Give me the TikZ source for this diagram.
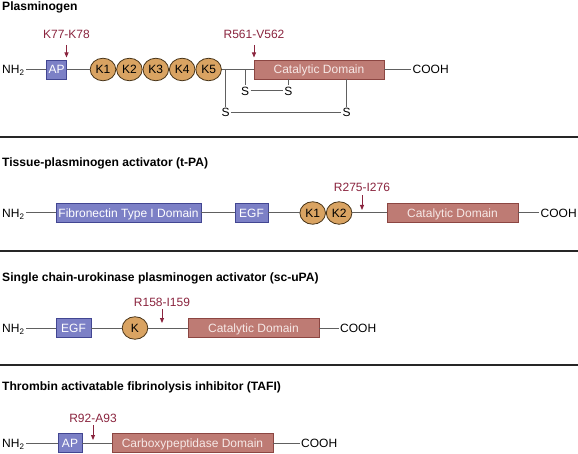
\documentclass[tikz,border=0pt]{standalone}
\usepackage{fontspec}
\setmainfont{Liberation Sans}
\usetikzlibrary{positioning, arrows.meta, shapes.geometric}
\definecolor{apblue}{RGB}{124,128,198}
\definecolor{apborder}{RGB}{66,70,146}
\definecolor{catred}{RGB}{190,123,116}
\definecolor{catborder}{RGB}{140,70,66}
\definecolor{cattext}{RGB}{246,232,230}
\definecolor{krfill}{RGB}{217,163,98}
\definecolor{krborder}{RGB}{72,52,24}
\definecolor{cleave}{RGB}{138,36,62}
\definecolor{chain}{RGB}{96,96,96}
\newcommand{\domfont}{\fontsize{12}{14}\selectfont}
\newcommand{\headfont}{\fontsize{12.1}{14}\selectfont\bfseries}
\tikzset{
  every node/.style={font=\domfont},
  heading/.style={anchor=base west, inner sep=0pt, font=\headfont},
  term/.style={anchor=west, inner sep=1.5pt, text height=8.5pt, text depth=0pt},
  bluebox/.style={
    rectangle, draw=apborder, fill=apblue, line width=0.8pt,
    minimum height=19pt, inner sep=0pt, text height=8.5pt, text depth=0pt, text=white
  },
  catbox/.style={
    rectangle, draw=catborder, fill=catred, line width=0.8pt,
    minimum height=19pt, inner sep=0pt, text height=8.5pt, text depth=0pt, text=cattext
  },
  kringle/.style={
    ellipse, draw=krborder, fill=krfill, line width=0.8pt,
    minimum width=25.6pt, minimum height=22.5pt, inner sep=0pt
  },
  site/.style={anchor=base, inner sep=0pt, text=cleave},
  cleavage/.style={draw=cleave, line width=0.9pt, -{Triangle[width=4pt,length=5pt]}},
  sulfur/.style={inner sep=1.5pt},
  every edge/.style={draw=chain, line width=1pt},
  divider/.style={line width=1.6pt, black!85},
}
\begin{document}
\begin{tikzpicture}[x=1pt, y=-1pt]
  \useasboundingbox (0,0) rectangle (578,454);

  % Plasminogen
  \node[heading] (t1) at (2,10.5) {Plasminogen};
  \node[term] (nh1) at (0.5,69.5) {NH\textsubscript{2}};
  \node[bluebox, minimum width=20pt] (ap1) at (56.7,69.5) {AP};
  \node[kringle] (k11) at (103,69.5) {K1};
  \node[kringle, right=0pt of k11] (k12) {K2};
  \node[kringle, right=0pt of k12] (k13) {K3};
  \node[kringle, right=0pt of k13] (k14) {K4};
  \node[kringle, right=0pt of k14] (k15) {K5};
  \node[catbox, minimum width=130pt] (cat1) at (319,69.5) {Catalytic Domain};
  \node[term] (cooh1) at (411,69.5) {COOH};
  \path (nh1) edge (ap1)
        (ap1) edge (k11)
        (k15) edge (cat1)
        (cat1) edge (cooh1);

  \node[site] (cut1a) at (66.5,38.5) {K77-K78};
  \node[site] (cut1b) at (254,38.5) {R561-V562};
  \coordinate (c1a) at (66.5,57.5);
  \coordinate (c1b) at (254,57.5);
  \draw[cleavage, shorten <=6pt] (cut1a) -- (c1a);
  \draw[cleavage, shorten <=6pt] (cut1b) -- (c1b);

  % disulfide bridges
  \node[sulfur] (sa) at (245,91) {S};
  \node[sulfur] (sb) at (288.3,91) {S};
  \node[sulfur] (sc) at (225.7,112.5) {S};
  \node[sulfur] (sd) at (346.7,112.5) {S};
  \coordinate (ja) at (245,69.5);
  \coordinate (jc) at (225.7,69.5);
  \path (ja) edge (sa)
        (sa) edge (sb)
        (sb) edge (sb |- cat1.south)
        (jc) edge (sc)
        (sc) edge (sd)
        (sd) edge (sd |- cat1.south);

  \draw[divider] (0,137) -- (578,137);

  % t-PA
  \node[heading] (t2) at (2,167) {Tissue-plasminogen activator (t-PA)};
  \node[term] (nh2) at (0.5,213) {NH\textsubscript{2}};
  \node[bluebox, minimum width=145pt] (fn2) at (128.5,213) {Fibronectin Type I Domain};
  \node[bluebox, minimum width=33pt] (egf2) at (251.5,213) {EGF};
  \node[kringle] (k21) at (312.7,213) {K1};
  \node[kringle, right=0pt of k21] (k22) {K2};
  \node[catbox, minimum width=131pt] (cat2) at (452.5,213) {Catalytic Domain};
  \node[term] (cooh2) at (539,213) {COOH};
  \path (nh2) edge (fn2)
        (fn2) edge (egf2)
        (egf2) edge (k21)
        (k22) edge (cat2)
        (cat2) edge (cooh2);

  \node[site] (cut2) at (362,191.5) {R275-I276};
  \coordinate (c2) at (362,210);
  \draw[cleavage, shorten <=3.5pt] (cut2) -- (c2);

  \draw[divider] (0,251) -- (578,251);

  % sc-uPA
  \node[heading] (t3) at (2,282) {Single chain-urokinase plasminogen activator (sc-uPA)};
  \node[term] (nh3) at (0.5,328) {NH\textsubscript{2}};
  \node[bluebox, minimum width=35pt] (egf3) at (73.5,328) {EGF};
  \node[kringle] (k3) at (135,328) {K};
  \node[catbox, minimum width=131pt] (cat3) at (253.5,328) {Catalytic Domain};
  \node[term] (cooh3) at (338.5,328) {COOH};
  \path (nh3) edge (egf3)
        (egf3) edge (k3)
        (k3) edge (cat3)
        (cat3) edge (cooh3);

  \node[site] (cut3) at (162,306.5) {R158-I159};
  \coordinate (c3) at (162,323);
  \draw[cleavage, shorten <=2pt] (cut3) -- (c3);

  \draw[divider] (0,365) -- (578,365);

  % TAFI
  \node[heading] (t4) at (2,390) {Thrombin activatable fibrinolysis inhibitor (TAFI)};
  \node[term] (nh4) at (0.5,443) {NH\textsubscript{2}};
  \node[bluebox, minimum width=24pt] (ap4) at (70,443) {AP};
  \node[catbox, minimum width=161pt] (carb4) at (192.5,443) {Carboxypeptidase Domain};
  \node[term] (cooh4) at (299.5,443) {COOH};
  \path (nh4) edge (ap4)
        (ap4) edge (carb4)
        (carb4) edge (cooh4);

  \node[site] (cut4) at (93,422.5) {R92-A93};
  \coordinate (c4) at (93,440);
  \draw[cleavage, shorten <=2.5pt] (cut4) -- (c4);
\end{tikzpicture}
\end{document}
